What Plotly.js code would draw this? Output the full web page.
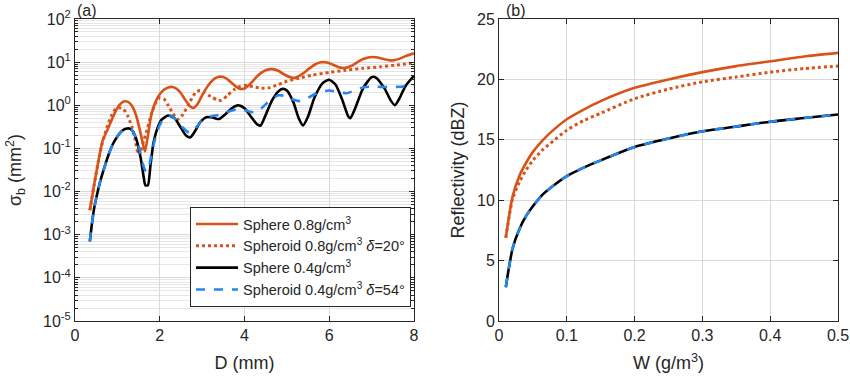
<!DOCTYPE html>
<html>
<head>
<meta charset="utf-8">
<script src="https://cdn.plot.ly/plotly-3.0.1.min.js"></script>
<style>html,body{margin:0;padding:0;background:#fff;}#chart{width:850px;height:378px;}</style>
</head>
<body>
<div id="chart"></div>
<script>
// ---- Panel (a): backscattering cross-section vs diameter ----
const D_sph08 = [0.35,0.45,0.55,0.65,0.75,0.85,0.95,1.05,1.15,1.25,1.35,1.45,1.55,1.65,1.72,1.8,1.9,2.0,2.1,2.2,2.3,2.4,2.5,2.6,2.7,2.8,2.9,3.0,3.1,3.2,3.3,3.4,3.5,3.6,3.7,3.8,3.9,4.0,4.1,4.2,4.3,4.4,4.5,4.65,4.8,4.95,5.1,5.2,5.35,5.5,5.65,5.8,5.95,6.1,6.25,6.35,6.5,6.65,6.8,6.95,7.1,7.25,7.4,7.5,7.65,7.8,8.0];
const S_sph08 = [0.0037,0.014,0.05,0.15,0.25,0.42,0.7,1.02,1.22,1.2,0.95,0.55,0.22,0.085,0.2,0.6,1.2,1.8,2.3,2.6,2.65,2.4,1.9,1.35,0.98,0.87,1.1,1.7,2.5,3.4,4.2,4.6,4.5,4.0,3.3,2.7,2.4,2.45,2.9,3.7,4.7,5.7,6.5,6.9,6.3,5.1,4.4,4.35,5.2,6.8,8.7,9.9,9.8,8.6,7.5,7.3,8.0,9.8,11.8,13,13,12,11.1,11,11.9,13.8,16];

const D_spd08 = [0.35,0.45,0.55,0.65,0.75,0.85,0.95,1.05,1.15,1.25,1.35,1.42,1.48,1.55,1.62,1.7,1.8,1.9,2.0,2.1,2.2,2.3,2.42,2.55,2.7,2.85,2.95,3.05,3.2,3.35,3.45,3.6,3.75,3.9,4.05,4.2,4.4,4.55,4.75,5.0,5.3,5.6,6.0,6.4,6.8,7.2,7.6,8.0];
const S_spd08 = [0.0037,0.014,0.05,0.14,0.3,0.55,0.8,0.88,0.8,0.55,0.3,0.16,0.085,0.09,0.15,0.27,0.62,1.1,1.5,1.4,1.0,0.68,0.47,0.62,1.15,2.0,2.2,2.0,1.6,1.35,1.3,1.7,2.3,2.75,2.9,2.7,2.5,2.5,2.9,3.6,4.3,5.0,5.8,6.5,7.2,7.8,8.6,9.6];

const D_sph04 = [0.35,0.4,0.45,0.5,0.6,0.7,0.8,0.9,1.0,1.1,1.2,1.28,1.35,1.45,1.55,1.62,1.66,1.72,1.78,1.85,1.95,2.05,2.2,2.35,2.5,2.62,2.72,2.82,2.95,3.1,3.25,3.4,3.55,3.7,3.85,4.0,4.15,4.3,4.38,4.5,4.65,4.8,4.9,5.0,5.15,5.28,5.38,5.5,5.65,5.85,6.0,6.15,6.3,6.45,6.5,6.6,6.8,7.0,7.1,7.3,7.45,7.55,7.65,7.8,8.0];
const S_sph04 = [0.0007,0.0018,0.004,0.007,0.018,0.038,0.075,0.13,0.19,0.25,0.285,0.29,0.26,0.16,0.06,0.022,0.014,0.014,0.04,0.13,0.3,0.47,0.58,0.5,0.3,0.2,0.18,0.24,0.4,0.53,0.52,0.48,0.62,0.85,1.0,0.85,0.55,0.36,0.34,0.6,1.3,2.1,2.4,2.2,1.2,0.5,0.34,0.55,1.5,3.3,3.9,3.0,1.4,0.55,0.5,0.8,2.5,4.5,4.4,2.5,1.3,1.0,1.4,2.8,4.8];

const D_spd04 = [0.35,0.4,0.45,0.5,0.6,0.7,0.8,0.9,1.0,1.1,1.2,1.28,1.35,1.45,1.55,1.63,1.68,1.73,1.8,1.9,2.0,2.1,2.25,2.4,2.55,2.7,2.85,3.0,3.2,3.4,3.6,3.8,3.95,4.1,4.25,4.4,4.6,4.8,4.95,5.1,5.3,5.5,5.75,6.0,6.2,6.4,6.6,6.8,7.0,7.4,7.7,8.0];
const S_spd04 = [0.0007,0.0018,0.004,0.007,0.018,0.038,0.075,0.13,0.19,0.25,0.285,0.29,0.26,0.17,0.075,0.035,0.029,0.032,0.07,0.18,0.35,0.5,0.58,0.45,0.3,0.23,0.3,0.45,0.55,0.6,0.7,0.8,0.8,0.72,0.68,0.85,1.3,1.7,1.65,1.4,1.25,1.5,2.0,2.2,2.05,1.9,2.2,2.6,2.7,2.65,2.7,2.9];

// ---- Panel (b): reflectivity vs water content ----
const W = [0.01,0.02,0.03,0.04,0.05,0.065,0.08,0.1,0.125,0.15,0.2,0.25,0.3,0.35,0.4,0.45,0.5];
const Z_sph08 = [6.9,10.3,12.0,13.1,14.0,15.0,15.8,16.7,17.5,18.2,19.3,20.0,20.6,21.1,21.5,21.9,22.2];
const Z_spd08 = [6.9,10.1,11.5,12.5,13.3,14.2,14.9,15.8,16.6,17.2,18.4,19.2,19.8,20.2,20.6,20.9,21.1];
const Z_sph04 = [2.8,6.0,7.6,8.7,9.5,10.5,11.2,12.0,12.7,13.3,14.4,15.1,15.7,16.1,16.5,16.8,17.1];
const Z_spd04 = [2.8,6.0,7.6,8.7,9.5,10.5,11.2,12.0,12.7,13.3,14.4,15.1,15.7,16.1,16.5,16.8,17.1];

const names = ['Sphere 0.8g/cm<sup>3</sup>',
               'Spheroid 0.8g/cm<sup>3</sup> <i>δ</i>=20°',
               'Sphere 0.4g/cm<sup>3</sup>',
               'Spheroid 0.4g/cm<sup>3</sup> <i>δ</i>=54°'];

const ORANGE = '#d95319', BLACK = '#000000', BLUE = '#2288ee';
const lineA = [
  {color: ORANGE, width: 2.6, dash: 'solid'},
  {color: ORANGE, width: 3, dash: 'dot'},
  {color: BLACK, width: 2.6, dash: 'solid'},
  {color: BLUE, width: 2.6, dash: 'dash'}
];
function L(i){ return Object.assign({shape:'spline', smoothing:0.6}, lineA[i]); }

const traces = [
  {x: D_sph08, y: S_sph08, name: names[0], line: L(0)},
  {x: D_spd08, y: S_spd08, name: names[1], line: L(1)},
  {x: D_sph04, y: S_sph04, name: names[2], line: L(2)},
  {x: D_spd04, y: S_spd04, name: names[3], line: L(3)},
  {x: W, y: Z_sph08, name: names[0], line: L(0), xaxis:'x2', yaxis:'y2', showlegend:false},
  {x: W, y: Z_spd08, name: names[1], line: L(1), xaxis:'x2', yaxis:'y2', showlegend:false},
  {x: W, y: Z_sph04, name: names[2], line: L(2), xaxis:'x2', yaxis:'y2', showlegend:false},
  {x: W, y: Z_spd04, name: names[3], line: L(3), xaxis:'x2', yaxis:'y2', showlegend:false}
].map(t => Object.assign({type:'scatter', mode:'lines', hoverinfo:'skip'}, t));

const FONT = 'Liberation Sans, Arial, sans-serif';
const AX = '#262626';
const common = {
  linecolor: AX, linewidth: 1, mirror: 'ticks', ticks: 'inside', ticklen: 5,
  tickcolor: AX, showgrid: true, gridcolor: '#d9d9d9', zeroline: false,
  tickfont: {family: FONT, size: 16, color: AX}, automargin: false
};

const yTickVals = [1e-5,1e-4,1e-3,1e-2,1e-1,1,10,100];
const yTickText = ['10<sup>-5</sup>','10<sup>-4</sup>','10<sup>-3</sup>','10<sup>-2</sup>','10<sup>-1</sup>','10<sup>0</sup>','10<sup>1</sup>','10<sup>2</sup>'];

const layout = {
  width: 850, height: 378,
  margin: {l:0, r:0, t:0, b:0},
  paper_bgcolor: '#ffffff', plot_bgcolor: '#ffffff',
  font: {family: FONT, color: AX},
  showlegend: true,
  legend: {x: 190/850, y: 1-207/378, xanchor:'left', yanchor:'top',
           bgcolor:'#ffffff', bordercolor: AX, borderwidth: 1, itemwidth: 42,
           font: {family: FONT, size: 14.5, color: AX}, tracegroupgap: 0},
  xaxis: Object.assign({}, common, {domain:[75/850, 414/850], range:[0,8], tickvals:[0,2,4,6,8],
           title:{text:'D (mm)', font:{family:FONT, size:18, color:AX}, standoff: 13}}),
  yaxis: Object.assign({}, common, {domain:[1-321/378, 1-19/378], type:'log', range:[-5,2],
           tickvals: yTickVals, ticktext: yTickText,
           minor: {dtick:'D1', showgrid:true, gridcolor:'#e6e6e6', ticks:'inside', ticklen:3, tickcolor:AX},
           title:{text:'σ<sub>b</sub> (mm<sup>2</sup>)', font:{family:FONT, size:18, color:AX}, standoff: 16}}),
  xaxis2: Object.assign({}, common, {anchor:'y2', domain:[499/850, 838/850], range:[0,0.5], tickvals:[0,0.1,0.2,0.3,0.4,0.5],
           ticktext:['0','0.1','0.2','0.3','0.4','0.5'],
           title:{text:'W (g/m<sup>3</sup>)', font:{family:FONT, size:18, color:AX}, standoff: 13}}),
  yaxis2: Object.assign({}, common, {anchor:'x2', domain:[1-321/378, 1-19/378], range:[0,25], tickvals:[0,5,10,15,20,25],
           title:{text:'Reflectivity (dBZ)', font:{family:FONT, size:18, color:AX}, standoff: 7}}),
  annotations: [
    {text:'(a)', xref:'paper', yref:'paper', x:75/850, y:1, xanchor:'left', yanchor:'top', showarrow:false,
     font:{family:FONT, size:16, color:AX}},
    {text:'(b)', xref:'paper', yref:'paper', x:504/850, y:1, xanchor:'left', yanchor:'top', showarrow:false,
     font:{family:FONT, size:16, color:AX}}
  ]
};

Plotly.newPlot('chart', traces, layout, {staticPlot: true, displayModeBar: false});
</script>
</body>
</html>
